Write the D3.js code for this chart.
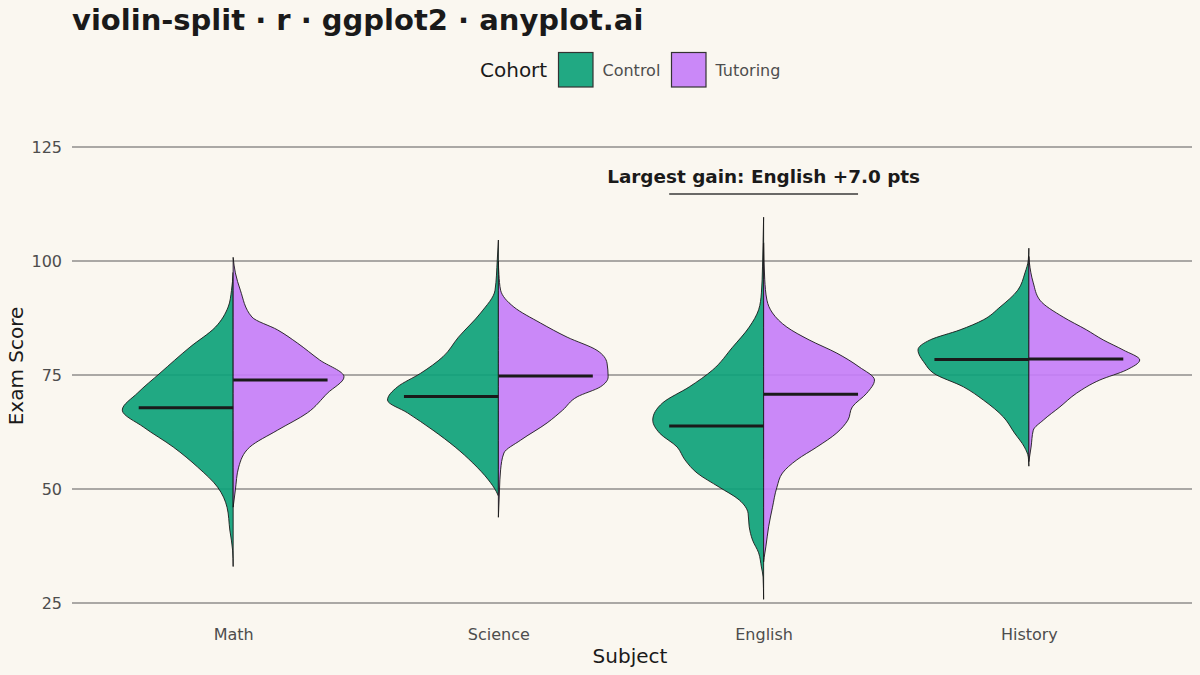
<!DOCTYPE html>
<html>
<head>
<meta charset="utf-8">
<script src="https://cdn.jsdelivr.net/npm/d3@7"></script>
<style>
  html, body { margin: 0; padding: 0; background: #FAF7F0; }
  svg { display: block; }
  text { font-family: "DejaVu Sans", sans-serif; }
</style>
</head>
<body>
<svg id="chart" width="1200" height="675"></svg>
<script>
// ---------------- data ----------------
const subjects = ["Math", "Science", "English", "History"];
const cohorts = ["Control", "Tutoring"];
const yTicks = [25, 50, 75, 100, 125];

// density profiles: [score, relative density (1 = widest)]
const mathControl = [[33,0],[36.6,0.005],[41,0.03],[46,0.055],[50.4,0.14],[54.8,0.32],[59.2,0.54],[63.6,0.81],[67.3,1.0],[71.1,0.86],[75.4,0.66],[81.1,0.39],[85.5,0.16],[89.9,0.045],[93.5,0.015],[97.5,0]];
const mathTutoring = [[46,0],[49.8,0.02],[54.8,0.05],[59.2,0.15],[62.9,0.40],[66.7,0.67],[71,0.85],[74.6,1.0],[78.3,0.78],[82,0.58],[84.9,0.40],[87.7,0.17],[93.6,0.065],[97.4,0.02],[100.8,0]];
const scienceControl = [[48.5,0],[49.5,0.02],[52,0.09],[55.7,0.23],[59.2,0.39],[62.9,0.59],[66.7,0.82],[69.5,1.0],[72.4,0.91],[75.4,0.70],[79,0.50],[83.3,0.36],[88.6,0.16],[93.6,0.03],[100.2,0.01],[104.6,0]];
const scienceTutoring = [[43.8,0],[49.8,0.01],[54.2,0.02],[57.9,0.05],[60.7,0.2],[64.5,0.44],[67.3,0.58],[70.2,0.71],[72.4,0.92],[74.6,0.99],[77.6,0.98],[80.4,0.89],[83.3,0.62],[86.4,0.38],[89.9,0.14],[93.6,0.02],[97,0.005],[100,0]];
const englishControl = [[25.8,0],[30.7,0.005],[32.9,0.02],[36,0.045],[38.8,0.10],[41.7,0.13],[44.7,0.14],[47.6,0.22],[50.4,0.40],[53.5,0.60],[56.4,0.71],[59.2,0.78],[62.3,0.94],[65.1,1.0],[68.9,0.91],[72.4,0.67],[76.1,0.46],[81.1,0.28],[85.5,0.13],[89.3,0.045],[93,0.02],[98.7,0.01],[104,0.005],[109.6,0]];
const englishTutoring = [[34,0],[35,0.005],[37.3,0.02],[41.7,0.045],[46,0.08],[50.4,0.12],[53.5,0.17],[56.4,0.30],[59.2,0.48],[62.3,0.66],[65.1,0.76],[68,0.80],[71,0.93],[73.9,1.0],[76.8,0.86],[79.8,0.66],[82.7,0.41],[85.5,0.21],[88.6,0.08],[91.4,0.03],[96,0.01],[104,0]];
const historyControl = [[55,0],[57,0.005],[59.2,0.04],[62.3,0.13],[65.8,0.23],[69.5,0.41],[72.4,0.59],[75.4,0.86],[77.6,0.94],[80.5,1.0],[82.7,0.89],[84.9,0.62],[87.1,0.41],[89.9,0.26],[93.6,0.10],[97.4,0.035],[100.2,0.005],[102.8,0]];
const historyTutoring = [[56,0],[59.2,0.02],[62.9,0.04],[65.1,0.13],[68,0.28],[71,0.43],[73.9,0.64],[76.1,0.88],[78.3,1.0],[80.5,0.85],[82.7,0.67],[84.9,0.52],[87.7,0.31],[91.4,0.10],[95.2,0.04],[99.6,0.005],[101,0]];

const controlMedians = [67.8, 70.3, 63.8, 78.4];
const tutoringMedians = [73.9, 74.8, 70.8, 78.5];

const annotationText = "Largest gain: English +7.0 pts";
const annotationSubject = "English";

// ---------------- build table ----------------
const densities = {
  Math: [mathControl, mathTutoring],
  Science: [scienceControl, scienceTutoring],
  English: [englishControl, englishTutoring],
  History: [historyControl, historyTutoring]
};
const violins = [];
subjects.forEach((s, i) => {
  cohorts.forEach((c, j) => {
    violins.push({
      subject: s, cohort: c, side: j === 0 ? -1 : 1,
      profile: densities[s][j],
      median: j === 0 ? controlMedians[i] : tutoringMedians[i]
    });
  });
});

// ---------------- layout ----------------
const W = 1200, H = 675;
const panel = { left: 72, right: 1192, top: 147, bottom: 603 };
const colors = { Control: "#0EA27A", Tutoring: "#C57EF8" };
const fillOpacity = 0.92;
const ink = "#1a1a1a";

const svg = d3.select("#chart");
svg.append("rect").attr("width", W).attr("height", H).attr("fill", "#FAF7F0");

const x = d3.scalePoint().domain(subjects).range([74, 1188]).padding(0.6);
const y = d3.scaleLinear().domain([25, 125]).range([panel.bottom, panel.top]);
const step = x.step();
const w = d3.scaleLinear().domain([0, 1]).range([0, step * 0.418]);
const medianHalf = step * 0.356;

// grid
svg.append("g").selectAll("line").data(yTicks).join("line")
  .attr("x1", panel.left).attr("x2", panel.right)
  .attr("y1", d => y(d)).attr("y2", d => y(d))
  .attr("stroke", "#5b5b5b").attr("stroke-width", 1.2);

// y axis labels
const yAxis = d3.axisLeft(y).tickValues(yTicks).tickSize(0).tickPadding(10);
const yg = svg.append("g").attr("transform", `translate(${panel.left},0)`).call(yAxis);
yg.select(".domain").remove();
yg.selectAll("text").attr("font-size", 16).attr("fill", "#4d4d4d")
  .attr("font-family", "DejaVu Sans, sans-serif");

// x axis labels
const xAxis = d3.axisBottom(x).tickSize(0).tickPadding(0);
const xg = svg.append("g").attr("transform", `translate(0,629)`).call(xAxis);
xg.select(".domain").remove();
xg.selectAll("text").attr("font-size", 16).attr("fill", "#4d4d4d")
  .attr("font-family", "DejaVu Sans, sans-serif");

// violins
const area = d3.area()
  .curve(d3.curveMonotoneY)
  .y(d => y(d[0]));

const vg = svg.append("g");
violins.forEach(v => {
  const cx = x(v.subject);
  area.x0(cx).x1(d => cx + v.side * w(d[1]));
  vg.append("path")
    .attr("d", area(v.profile))
    .attr("fill", colors[v.cohort])
    .attr("fill-opacity", fillOpacity)
    .attr("stroke", ink)
    .attr("stroke-width", 0.9)
    .attr("stroke-linejoin", "round");
});

// medians
svg.append("g").selectAll("line").data(violins).join("line")
  .attr("x1", d => x(d.subject))
  .attr("x2", d => x(d.subject) + d.side * medianHalf)
  .attr("y1", d => y(d.median)).attr("y2", d => y(d.median))
  .attr("stroke", ink).attr("stroke-width", 3);

// annotation
const ax = x(annotationSubject);
svg.append("text").attr("x", ax).attr("y", 183)
  .attr("text-anchor", "middle").attr("font-size", 18.4).attr("font-weight", "bold")
  .attr("fill", ink).text(annotationText);
svg.append("line")
  .attr("x1", ax - medianHalf).attr("x2", ax + medianHalf)
  .attr("y1", y(114.7)).attr("y2", y(114.7))
  .attr("stroke", "#3a3a3a").attr("stroke-width", 1.5);

// title
svg.append("text").attr("x", 72).attr("y", 30)
  .attr("font-size", 29).attr("font-weight", "bold").attr("fill", ink)
  .text("violin-split · r · ggplot2 · anyplot.ai");

// axis titles
svg.append("text").attr("x", (x("Science") + x("English")) / 2 - 1).attr("y", 663)
  .attr("text-anchor", "middle").attr("font-size", 20).attr("fill", ink).text("Subject");
svg.append("text").attr("transform", `translate(23,${(panel.top + panel.bottom) / 2 - 9}) rotate(-90)`)
  .attr("text-anchor", "middle").attr("font-size", 20).attr("fill", ink).text("Exam Score");

// legend
const lg = svg.append("g");
lg.append("text").attr("x", 480).attr("y", 77).attr("font-size", 20).attr("fill", ink).text("Cohort");
const keyX = [558.5, 671.5];
cohorts.forEach((c, i) => {
  lg.append("rect").attr("x", keyX[i]).attr("y", 52.5).attr("width", 34.5).attr("height", 34.5)
    .attr("fill", colors[c]).attr("fill-opacity", fillOpacity)
    .attr("stroke", "#333").attr("stroke-width", 1.2);
  lg.append("text").attr("x", keyX[i] + 44).attr("y", 76).attr("font-size", 16)
    .attr("fill", "#4d4d4d").text(c);
});
</script>
</body>
</html>
